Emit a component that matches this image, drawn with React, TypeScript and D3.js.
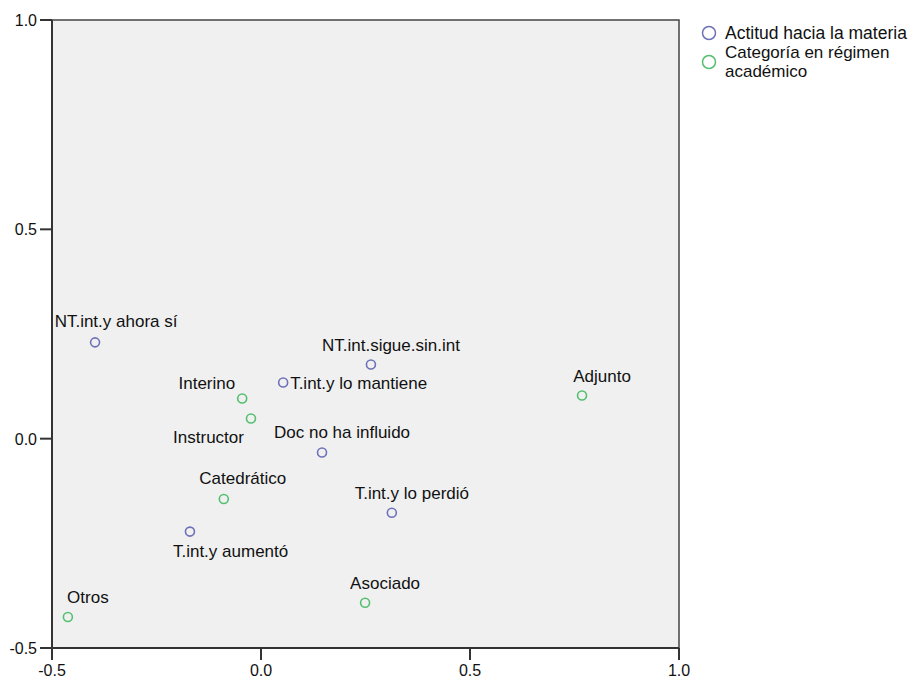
import React from "react";
import * as d3 from "d3";

// ---- Data ----
const actitudNames = [
  "NT.int.y ahora sí",
  "NT.int.sigue.sin.int",
  "T.int.y lo mantiene",
  "Doc no ha influido",
  "T.int.y lo perdió",
  "T.int.y aumentó",
];
const actitudX = [-0.397, 0.263, 0.053, 0.146, 0.313, -0.17];
const actitudY = [0.23, 0.177, 0.134, -0.033, -0.177, -0.222];

const categoriaNames = ["Interino", "Instructor", "Catedrático", "Adjunto", "Asociado", "Otros"];
const categoriaX = [-0.045, -0.024, -0.089, 0.768, 0.249, -0.462];
const categoriaY = [0.096, 0.048, -0.144, 0.103, -0.392, -0.426];

const xTicks = [-0.5, 0.0, 0.5, 1.0];
const yTicks = [-0.5, 0.0, 0.5, 1.0];
const legendLine1 = "Actitud hacia la materia";
const legendLine2a = "Categoría en régimen";
const legendLine2b = "académico";

// ---- Label placement (style, not data) ----
type Place = { anchor: "start" | "middle" | "end"; dx: number; dy: number };
const above: Place = { anchor: "middle", dx: 20, dy: -14 };
const labelPlace: Record<string, Place> = {
  "NT.int.y ahora sí": { anchor: "middle", dx: 21, dy: -15 },
  "NT.int.sigue.sin.int": above,
  "T.int.y lo mantiene": { anchor: "start", dx: 7, dy: 6 },
  "Doc no ha influido": above,
  "T.int.y lo perdió": above,
  "T.int.y aumentó": { anchor: "start", dx: -17, dy: 25 },
  Interino: { anchor: "end", dx: -7, dy: -9 },
  Instructor: { anchor: "end", dx: -7, dy: 24 },
  Catedrático: { anchor: "middle", dx: 19, dy: -15 },
  Adjunto: above,
  Asociado: above,
  Otros: above,
};

const W = 917;
const H = 682;
const left = 52;
const right = 679;
const top = 20;
const bottom = 648;

const BLUE = "#6d72b8";
const GREEN = "#55bf70";
const FONT = "'Liberation Sans', Arial, sans-serif";

export default function App() {
  const x = d3.scaleLinear().domain([-0.5, 1.0]).range([left, right]);
  const y = d3.scaleLinear().domain([-0.5, 1.0]).range([bottom, top]);
  const fmt = (v: number) => d3.format(".1f")(v).replace("\u2212", "-");

  const series = [
    { names: actitudNames, xs: actitudX, ys: actitudY, color: BLUE },
    { names: categoriaNames, xs: categoriaX, ys: categoriaY, color: GREEN },
  ];

  return (
    <svg
      width={W}
      height={H}
      style={{ position: "absolute", left: 0, top: 0, background: "#fff" }}
      fontFamily={FONT}
    >
      <rect x={left} y={top} width={right - left} height={bottom - top} fill="#f0f0f0" />

      {/* points and labels */}
      {series.map((s, si) =>
        s.names.map((n, i) => {
          const px = x(s.xs[i]);
          const py = y(s.ys[i]);
          const p = labelPlace[n] || above;
          return (
            <g key={`${si}-${i}`}>
              <circle cx={px} cy={py} r={4.5} fill="none" stroke={s.color} strokeWidth={1.6} />
              <text x={px + p.dx} y={py + p.dy} textAnchor={p.anchor} fontSize={17} fill="#111">
                {n}
              </text>
            </g>
          );
        })
      )}

      {/* frame */}
      <rect x={left} y={top} width={right - left} height={bottom - top} fill="none" stroke="#444" strokeWidth={1.5} />
      <line x1={left} x2={left} y1={top} y2={bottom} stroke="#333" strokeWidth={2} />
      <line x1={left} x2={right} y1={bottom} y2={bottom} stroke="#333" strokeWidth={2} />

      {/* y ticks */}
      {yTicks.map((t) => (
        <g key={`y${t}`}>
          <line x1={left - 12} x2={left} y1={y(t)} y2={y(t)} stroke="#333" strokeWidth={2} />
          <text x={37} y={y(t)} dy="0.38em" textAnchor="end" fontSize={16} fill="#111">
            {fmt(t)}
          </text>
        </g>
      ))}

      {/* x ticks */}
      {xTicks.map((t) => (
        <g key={`x${t}`}>
          <line x1={x(t)} x2={x(t)} y1={bottom} y2={bottom + 12} stroke="#333" strokeWidth={2} />
          <text x={x(t)} y={676} textAnchor="middle" fontSize={16} fill="#111">
            {fmt(t)}
          </text>
        </g>
      ))}

      {/* legend */}
      <circle cx={709} cy={33} r={6.5} fill="none" stroke={BLUE} strokeWidth={1.5} />
      <text x={725} y={39} fontSize={17.5} fill="#111">
        {legendLine1}
      </text>
      <circle cx={709} cy={62} r={6.5} fill="none" stroke={GREEN} strokeWidth={1.5} />
      <text x={725} y={58} fontSize={17} fill="#111">
        {legendLine2a}
      </text>
      <text x={725} y={77} fontSize={17} fill="#111">
        {legendLine2b}
      </text>
    </svg>
  );
}
